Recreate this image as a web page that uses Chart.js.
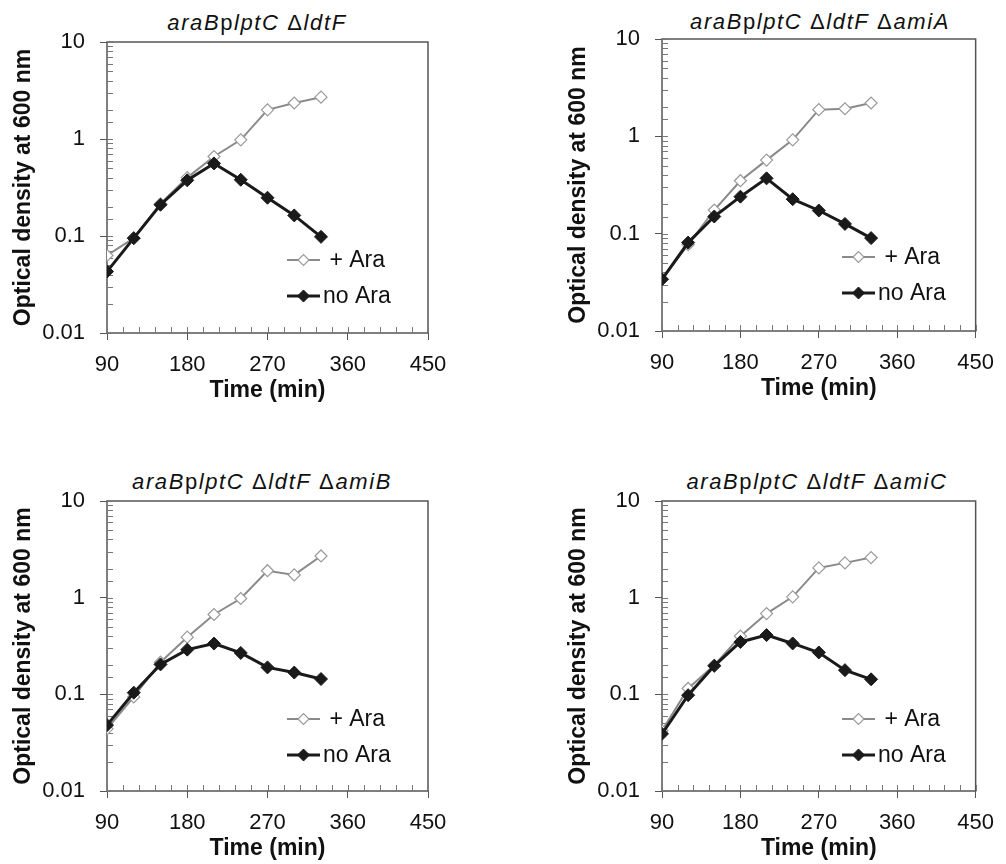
<!DOCTYPE html>
<html>
<head>
<meta charset="utf-8">
<script src="https://cdn.jsdelivr.net/npm/chart.js@4.4.1/dist/chart.umd.min.js"></script>
<style>
  body { margin: 0; background: #fff; }
  #wrap { position: relative; width: 1006px; height: 864px; }
  .panel { position: absolute; }
  .ttl {
    position: absolute;
    font-family: 'Liberation Sans', Arial, sans-serif;
    font-size: 22px;
    letter-spacing: 1.6px;
    color: #111;
    white-space: nowrap;
    transform: translateX(-50%);
    line-height: 1;
  }
  .ttl i { font-style: italic; }
</style>
</head>
<body>
<div id="wrap">
  <div class="ttl" style="left:257px; top:12px;"><i>araB</i>p<i>lptC</i> Δ<i>ldtF</i></div>
  <div class="ttl" style="left:820px; top:11px;"><i>araB</i>p<i>lptC</i> Δ<i>ldtF</i> Δ<i>amiA</i></div>
  <div class="ttl" style="left:262px; top:471px;"><i>araB</i>p<i>lptC</i> Δ<i>ldtF</i> Δ<i>amiB</i></div>
  <div class="ttl" style="left:817px; top:471px;"><i>araB</i>p<i>lptC</i> Δ<i>ldtF</i> Δ<i>amiC</i></div>

  <div class="panel" style="left:0; top:0; width:503px; height:430px;"><canvas id="c1"></canvas></div>
  <div class="panel" style="left:503px; top:0; width:503px; height:430px;"><canvas id="c2"></canvas></div>
  <div class="panel" style="left:0; top:430px; width:503px; height:434px;"><canvas id="c3"></canvas></div>
  <div class="panel" style="left:503px; top:430px; width:503px; height:434px;"><canvas id="c4"></canvas></div>
</div>

<script>
const times = [90, 120, 150, 180, 210, 240, 270, 300, 330];
const seriesLabels = [' + Ara', 'no Ara'];

const ldtFPlus = [0.063, 0.095, 0.215, 0.40, 0.66, 0.98, 2.0, 2.35, 2.7];
const ldtFNo = [0.043, 0.095, 0.21, 0.375, 0.56, 0.38, 0.248, 0.163, 0.098];

const amiAPlus = [0.034, 0.077, 0.175, 0.35, 0.57, 0.92, 1.88, 1.92, 2.2];
const amiANo = [0.034, 0.081, 0.15, 0.24, 0.37, 0.226, 0.173, 0.126, 0.09];

const amiBPlus = [0.044, 0.094, 0.215, 0.39, 0.67, 0.98, 1.9, 1.72, 2.7];
const amiBNo = [0.048, 0.104, 0.204, 0.29, 0.335, 0.268, 0.19, 0.168, 0.144];

const amiCPlus = [0.042, 0.115, 0.2, 0.40, 0.685, 1.02, 2.03, 2.29, 2.6];
const amiCNo = [0.039, 0.098, 0.197, 0.348, 0.41, 0.336, 0.271, 0.178, 0.143];

const xTicksMajor = [90, 180, 270, 360, 450];

const FONT = "'Liberation Sans', Arial, sans-serif";
const AXIS = '#555';

function isMajorY(v) {
  const l = Math.log10(v);
  return Math.abs(l - Math.round(l)) < 1e-6;
}

// box, inward ticks and legend drawn over the chart area
const frame = {
  id: 'frame',
  beforeDatasetsDraw(chart) {
    const { ctx, chartArea: a, scales } = chart;
    ctx.save();
    ctx.strokeStyle = AXIS;
    ctx.lineWidth = 1.5;
    ctx.strokeRect(a.left, a.top, a.right - a.left, a.bottom - a.top);
    ctx.lineWidth = 1;
    ctx.strokeStyle = '#777';
    ctx.beginPath();
    scales.y.ticks.forEach(t => {
      const y = Math.round(scales.y.getPixelForValue(t.value)) + 0.5;
      ctx.moveTo(a.left, y);
      ctx.lineTo(a.left + 6, y);
    });
    scales.x.ticks.forEach(t => {
      const x = Math.round(scales.x.getPixelForValue(t.value)) + 0.5;
      ctx.moveTo(x, a.bottom);
      ctx.lineTo(x, a.bottom - 6);
    });
    ctx.stroke();
    ctx.restore();
  },
  afterDatasetsDraw(chart) {
    const { ctx, chartArea: a } = chart;
    ctx.save();
    chart.data.datasets.forEach((ds, i) => {
      const y = a.top + 218 + 36 * i;
      const x0 = a.left + 180, x1 = a.left + 213, xm = (x0 + x1) / 2;
      ctx.strokeStyle = ds.borderColor;
      ctx.lineWidth = ds.borderWidth;
      ctx.beginPath();
      ctx.moveTo(x0, y);
      ctx.lineTo(x1, y);
      ctx.stroke();
      ctx.fillStyle = ds.pointBackgroundColor;
      ctx.strokeStyle = ds.pointBorderColor;
      ctx.lineWidth = ds.pointBorderWidth;
      Chart.helpers.drawPoint(ctx, {
        pointStyle: ds.pointStyle,
        radius: ds.pointRadius - 0.5,
        borderWidth: ds.pointBorderWidth,
        rotation: 0
      }, xm, y);
      ctx.fillStyle = '#111';
      ctx.font = '23px ' + FONT;
      ctx.textBaseline = 'middle';
      ctx.fillText(ds.label, a.left + 216, y + 1);
    });
    ctx.restore();
  }
};

function makePanel(id, plus, no, box) {
  const el = document.getElementById(id);
  const W = el.parentNode.clientWidth, H = el.parentNode.clientHeight;
  const yw = 97, xh = 71;
  new Chart(el, {
    type: 'line',
    data: {
      datasets: [
        {
          label: seriesLabels[0],
          data: times.map((t, i) => ({ x: t, y: plus[i] })),
          borderColor: '#8a8a8a',
          borderWidth: 2,
          pointStyle: 'rectRot',
          pointRadius: 6,
          pointBorderWidth: 1.2,
          pointBackgroundColor: '#fff',
          pointBorderColor: '#9a9a9a',
          order: 2,
        },
        {
          label: seriesLabels[1],
          data: times.map((t, i) => ({ x: t, y: no[i] })),
          borderColor: '#1a1a1a',
          borderWidth: 3,
          pointStyle: 'rectRot',
          pointRadius: 6.5,
          pointBorderWidth: 1,
          pointBackgroundColor: '#1a1a1a',
          pointBorderColor: '#1a1a1a',
          order: 1,
        },
      ],
    },
    options: {
      responsive: true,
      maintainAspectRatio: false,
      animation: false,
      events: [],
      layout: {
        padding: { left: box.L - yw, top: box.T, right: W - box.R, bottom: H - box.B - xh },
      },
      plugins: { legend: { display: false }, tooltip: { enabled: false } },
      scales: {
        x: {
          type: 'linear',
          min: 90,
          max: 450,
          afterFit: s => { s.height = xh; },
          ticks: {
            stepSize: 18,
            autoSkip: false,
            maxRotation: 0,
            padding: 12,
            color: '#111',
            font: { family: FONT, size: 22 },
            callback: v => (xTicksMajor.includes(v) ? String(v) : ''),
          },
          grid: {
            drawOnChartArea: false,
            tickLength: 7,
            tickWidth: 1,
            tickColor: c => (xTicksMajor.includes(c.tick.value) ? AXIS : 'rgba(0,0,0,0)'),
          },
          border: { display: false },
          title: {
            display: true,
            text: 'Time (min)',
            color: '#111',
            padding: 0,
            font: { family: FONT, size: 23, weight: 'bold' },
          },
        },
        y: {
          type: 'logarithmic',
          min: 0.01,
          max: 10,
          afterFit: s => { s.width = yw; },
          ticks: {
            autoSkip: false,
            padding: 15,
            color: '#111',
            font: { family: FONT, size: 22 },
            callback: v => {
              if (!isMajorY(v)) return '';
              const e = Math.round(Math.log10(v));
              return e >= 0 ? String(Math.round(v)) : v.toFixed(-e);
            },
          },
          grid: {
            drawOnChartArea: false,
            tickLength: 7,
            tickWidth: 1,
            tickColor: c => (isMajorY(c.tick.value) ? AXIS : 'rgba(0,0,0,0)'),
          },
          border: { display: false },
          title: {
            display: true,
            text: 'Optical density at 600 nm',
            color: '#111',
            padding: 0,
            font: { family: FONT, size: 23, weight: 'bold' },
          },
        },
      },
    },
    plugins: [frame],
  });
}

makePanel('c1', ldtFPlus, ldtFNo, { L: 107, T: 42, R: 428, B: 333 });
makePanel('c2', amiAPlus, amiANo, { L: 159, T: 39, R: 480, B: 331 });
makePanel('c3', amiBPlus, amiBNo, { L: 107, T: 71, R: 428, B: 361 });
makePanel('c4', amiCPlus, amiCNo, { L: 159, T: 71, R: 480, B: 361 });
</script>
</body>
</html>
